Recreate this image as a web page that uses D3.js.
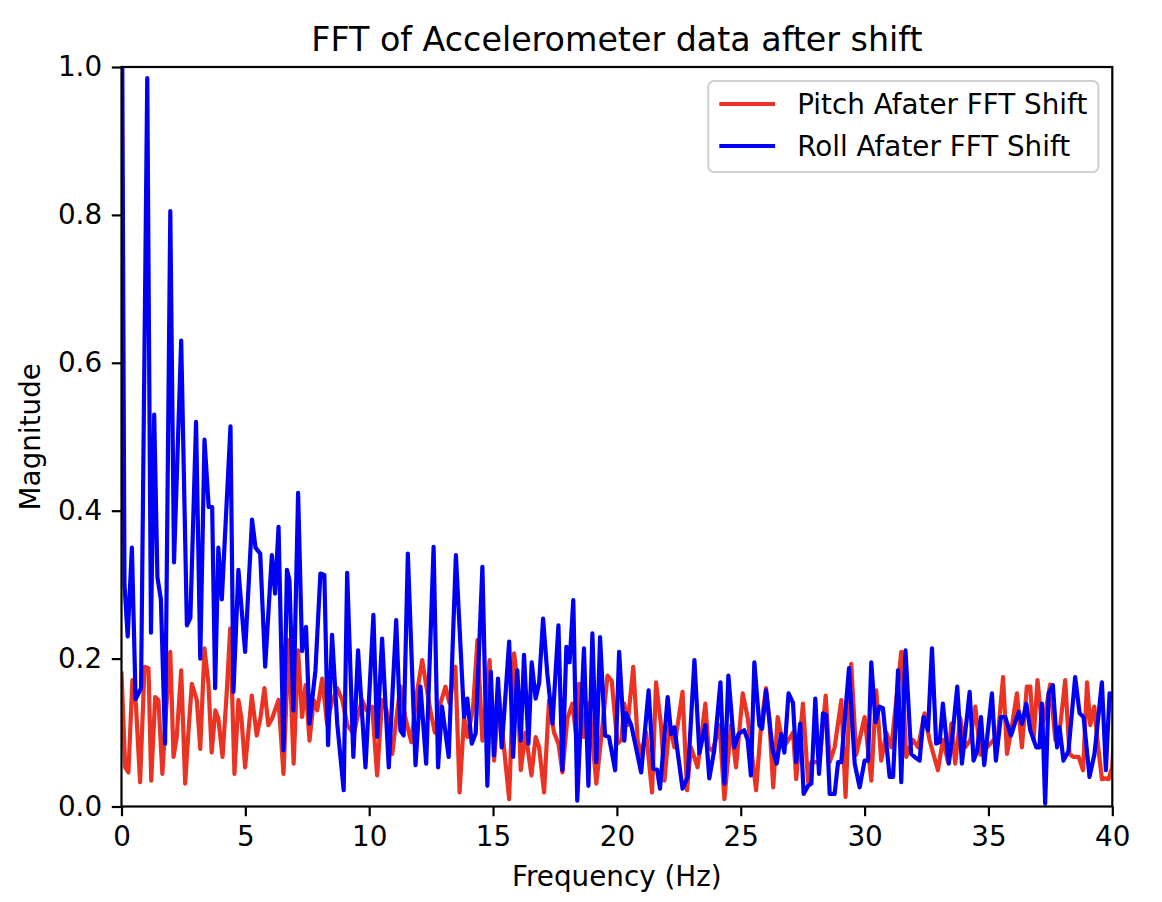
<!DOCTYPE html>
<html><head><meta charset="utf-8">
<script src="https://cdn.jsdelivr.net/npm/d3@7"></script>
<style>html,body{margin:0;padding:0;background:#fff;} svg{display:block;font-family:"DejaVu Sans",sans-serif;}</style>
</head><body><svg id="chart" width="1162" height="902"></svg>
<script>
const titleText = "FFT of Accelerometer data after shift";
const xLabel = "Frequency (Hz)";
const yLabel = "Magnitude";
const seriesNames = ["Pitch Afater FFT Shift", "Roll Afater FFT Shift"];
const seriesColors = ["#ea3323", "#0000f5"];
const xTicks = [0, 5, 10, 15, 20, 25, 30, 35, 40];
const yTicks = [0, 0.2, 0.4, 0.6, 0.8, 1.0];

const pitchFreq = [
0,0.15,0.28,0.44,0.58,0.75,0.93,1.09,1.20,1.36,
1.49,1.65,1.80,1.97,2.10,2.23,2.41,2.57,2.70,2.84,
3.04,3.18,3.35,3.51,3.64,3.79,3.91,4.08,4.24,4.39,
4.56,4.72,4.84,4.99,5.26,5.46,5.61,5.77,5.93,6.09,
6.34,6.54,6.75,6.95,7.13,7.29,7.43,7.59,7.76,7.90,
8.10,8.30,8.48,8.71,8.91,9.12,9.38,9.52,9.71,9.89,
10.12,10.32,10.52,10.70,10.93,11.10,11.26,11.46,11.70,11.91,
12.14,12.27,12.47,12.65,12.88,13.08,13.24,13.48,13.65,13.83,
13.96,14.19,14.37,14.57,14.86,15.04,15.24,15.38,15.65,15.85,
15.98,16.12,16.31,16.55,16.72,16.86,17.06,17.26,17.46,17.64,
17.80,18.00,18.20,18.34,18.47,18.67,18.88,19.17,19.39,19.62,
19.79,20.02,20.18,20.30,20.43,20.66,20.84,20.98,21.18,21.42,
21.58,21.78,21.92,22.12,22.32,22.65,22.83,22.99,23.26,23.57,
23.70,23.87,24.14,24.34,24.61,24.81,25.08,25.28,25.62,25.82,
26.02,26.15,26.31,26.49,26.67,26.83,27.11,27.24,27.51,27.72,
27.85,28.18,28.43,28.59,28.79,29.06,29.23,29.46,29.66,30.00,
30.27,30.47,30.67,30.88,31.08,31.48,31.68,31.95,32.16,32.42,
32.62,32.96,33.16,33.37,33.50,33.66,33.86,34.06,34.27,34.47,
34.67,34.94,35.21,35.34,35.59,35.75,35.95,36.15,36.35,36.55,
36.69,36.82,36.98,37.16,37.29,37.49,37.70,37.90,38.10,38.27,
38.44,38.64,38.82,38.98,39.11,39.27,39.40,39.58,39.72,39.85,
39.99,40.08];
const pitchMag = [
0.18,0.053,0.046,0.171,0.139,0.033,0.189,0.187,0.035,0.148,
0.144,0.044,0.13,0.209,0.067,0.094,0.184,0.031,0.1,0.166,
0.144,0.078,0.214,0.166,0.073,0.13,0.119,0.067,0.15,0.241,
0.044,0.144,0.12,0.053,0.15,0.096,0.12,0.16,0.11,0.12,
0.144,0.044,0.225,0.058,0.211,0.121,0.164,0.089,0.144,0.13,
0.173,0.112,0.14,0.16,0.144,0.11,0.098,0.12,0.144,0.13,
0.135,0.042,0.144,0.13,0.071,0.12,0.162,0.12,0.087,0.15,
0.198,0.17,0.13,0.1,0.14,0.162,0.14,0.189,0.019,0.121,
0.094,0.132,0.225,0.089,0.198,0.062,0.15,0.1,0.01,0.207,
0.17,0.049,0.1,0.042,0.094,0.08,0.019,0.144,0.1,0.085,
0.046,0.119,0.139,0.1,0.166,0.094,0.14,0.031,0.1,0.177,
0.17,0.085,0.09,0.139,0.11,0.189,0.089,0.07,0.1,0.019,
0.168,0.11,0.035,0.11,0.08,0.155,0.022,0.08,0.053,0.139,
0.08,0.075,0.11,0.01,0.11,0.053,0.153,0.12,0.022,0.11,
0.16,0.12,0.026,0.121,0.09,0.085,0.1,0.037,0.139,0.033,
0.06,0.06,0.15,0.06,0.08,0.144,0.013,0.193,0.07,0.121,
0.035,0.157,0.062,0.1,0.08,0.209,0.067,0.09,0.08,0.126,
0.09,0.049,0.09,0.06,0.112,0.058,0.12,0.08,0.09,0.135,
0.07,0.08,0.09,0.08,0.175,0.071,0.11,0.153,0.08,0.162,
0.162,0.09,0.171,0.11,0.125,0.165,0.09,0.11,0.171,0.071,
0.067,0.067,0.049,0.168,0.11,0.135,0.09,0.037,0.038,0.037,
0.053,0.1];

const rollFreq = [
0,0.12,0.25,0.42,0.57,0.79,1.04,1.19,1.32,1.45,
1.59,1.76,1.97,2.12,2.41,2.64,2.78,3.01,3.18,3.35,
3.52,3.66,3.78,3.91,4.05,4.40,4.52,4.72,4.99,5.27,
5.41,5.60,5.80,6.07,6.20,6.34,6.54,6.68,6.78,6.94,
7.13,7.29,7.45,7.59,7.83,8.03,8.19,8.34,8.50,8.71,
8.97,9.11,9.36,9.55,9.85,10.17,10.32,10.52,10.79,11.09,
11.26,11.39,11.56,11.87,12.07,12.30,12.60,12.78,12.94,13.21,
13.50,13.83,13.96,14.14,14.30,14.57,14.77,14.91,15.04,15.20,
15.35,15.50,15.65,15.81,15.98,16.12,16.25,16.43,16.56,16.72,
16.86,17.02,17.19,17.40,17.64,17.80,17.96,18.09,18.24,18.40,
18.67,18.85,19.01,19.17,19.32,19.52,19.68,19.93,20.09,20.30,
20.37,20.58,20.98,21.28,21.47,21.62,21.74,22.05,22.19,22.32,
22.65,22.86,23.13,23.33,23.57,23.73,23.93,24.18,24.34,24.50,
24.74,24.91,25.14,25.28,25.41,25.55,25.75,25.86,26.02,26.29,
26.45,26.63,26.76,26.93,27.11,27.24,27.40,27.54,27.72,27.85,
28.01,28.16,28.32,28.45,28.59,28.79,28.93,29.06,29.37,29.60,
29.80,30.00,30.14,30.27,30.44,30.60,30.74,31.01,31.15,31.35,
31.48,31.65,31.88,32.02,32.22,32.38,32.56,32.72,32.89,33.03,
33.16,33.40,33.56,33.74,33.93,34.24,34.40,34.54,34.70,34.83,
35.14,35.30,35.50,35.68,35.91,36.08,36.22,36.35,36.53,36.69,
36.93,37.06,37.16,37.29,37.43,37.60,37.77,37.87,38.03,38.23,
38.50,38.68,38.84,39.08,39.28,39.58,39.74,39.89,40.04];
const rollMag = [
1.25,0.30,0.23,0.35,0.145,0.16,0.985,0.235,0.53,0.31,
0.28,0.085,0.805,0.33,0.63,0.245,0.255,0.52,0.2,0.496,
0.405,0.405,0.16,0.35,0.28,0.514,0.155,0.32,0.209,0.388,
0.35,0.342,0.189,0.34,0.288,0.378,0.076,0.32,0.306,0.13,
0.424,0.21,0.243,0.112,0.184,0.315,0.313,0.083,0.232,0.112,
0.022,0.316,0.067,0.211,0.053,0.259,0.094,0.227,0.053,0.252,
0.103,0.096,0.342,0.056,0.162,0.058,0.351,0.053,0.135,0.067,
0.34,0.121,0.146,0.085,0.099,0.324,0.028,0.182,0.069,0.173,
0.08,0.15,0.223,0.067,0.184,0.089,0.205,0.085,0.195,0.146,
0.167,0.254,0.18,0.112,0.245,0.049,0.216,0.195,0.279,0.008,
0.214,0.028,0.234,0.06,0.229,0.096,0.094,0.049,0.209,0.089,
0.126,0.11,0.046,0.157,0.051,0.05,0.024,0.148,0.098,0.107,
0.024,0.04,0.198,0.072,0.11,0.038,0.076,0.168,0.031,0.177,
0.08,0.098,0.103,0.09,0.042,0.195,0.11,0.105,0.157,0.076,
0.058,0.098,0.073,0.153,0.14,0.06,0.112,0.017,0.028,0.031,
0.146,0.044,0.126,0.124,0.017,0.017,0.06,0.06,0.187,0.058,
0.026,0.062,0.062,0.195,0.114,0.135,0.133,0.04,0.04,0.184,
0.033,0.211,0.071,0.067,0.062,0.121,0.103,0.214,0.085,0.087,
0.139,0.058,0.1,0.162,0.058,0.155,0.062,0.075,0.121,0.056,
0.153,0.062,0.121,0.121,0.096,0.114,0.128,0.112,0.139,0.103,
0.08,0.08,0.139,0.004,0.153,0.164,0.08,0.107,0.062,0.075,
0.175,0.126,0.121,0.04,0.071,0.168,0.049,0.153,0.15];

const svg = d3.select("#chart");
const m = {left: 121.5, right: 1112.3, top: 67, bottom: 806.5};
const fs = 27.8;
const x = d3.scaleLinear().domain([0, 40]).range([m.left, m.right]);
const y = d3.scaleLinear().domain([0, 1]).range([m.bottom, m.top]);

svg.append("rect").attr("width", 1162).attr("height", 902).attr("fill", "#fff");

svg.append("defs").append("clipPath").attr("id", "plotclip")
  .append("rect").attr("x", m.left).attr("y", m.top)
  .attr("width", m.right - m.left).attr("height", m.bottom - m.top);

const series = [
  {name: seriesNames[0], color: seriesColors[0], f: pitchFreq, v: pitchMag},
  {name: seriesNames[1], color: seriesColors[1], f: rollFreq, v: rollMag}
];
const line = d3.line().x(d => x(d[0])).y(d => y(d[1]));
const g = svg.append("g").attr("clip-path", "url(#plotclip)");
series.forEach(s => {
  const pts = s.f.map((f, i) => [f, s.v[i]]);
  g.append("path").datum(pts).attr("d", line)
    .attr("fill", "none").attr("stroke", s.color)
    .attr("stroke-width", 4.2).attr("stroke-linejoin", "round").attr("stroke-linecap", "square");
});

// axes
const xAxis = d3.axisBottom(x).tickValues(xTicks).tickFormat(d3.format("d")).tickSize(9.7).tickPadding(9.7);
const yAxis = d3.axisLeft(y).tickValues(yTicks).tickFormat(d3.format(".1f")).tickSize(9.7).tickPadding(9.7);
const gx = svg.append("g").attr("transform", `translate(0,${m.bottom})`).call(xAxis);
const gy = svg.append("g").attr("transform", `translate(${m.left},0)`).call(yAxis);
[gx, gy].forEach(a => {
  a.select(".domain").remove();
  a.selectAll(".tick line").attr("stroke", "#000").attr("stroke-width", 2.2);
  a.selectAll(".tick text").attr("fill", "#000").style("font-size", fs + "px").style("font-family", "DejaVu Sans");
});

// spines
svg.append("rect").attr("x", m.left).attr("y", m.top)
  .attr("width", m.right - m.left).attr("height", m.bottom - m.top)
  .attr("fill", "none").attr("stroke", "#000").attr("stroke-width", 2.2);

// title & labels
svg.append("text").attr("x", (m.left + m.right) / 2).attr("y", 50.5)
  .attr("text-anchor", "middle").style("font-size", "33.3px").attr("fill", "#000").text(titleText);
svg.append("text").attr("x", (m.left + m.right) / 2).attr("y", 886)
  .attr("text-anchor", "middle").style("font-size", fs + "px").attr("fill", "#000").text(xLabel);
svg.append("text").attr("transform", `translate(40,${(m.top + m.bottom) / 2}) rotate(-90)`)
  .attr("text-anchor", "middle").style("font-size", fs + "px").attr("fill", "#000").text(yLabel);

// legend
const leg = svg.append("g");
const frame = leg.append("rect");
const rowsY = [104, 146];
const texts = [];
series.forEach((s, i) => {
  leg.append("line").attr("class", "h").attr("y1", rowsY[i]).attr("y2", rowsY[i])
    .attr("stroke", s.color).attr("stroke-width", 4.2).attr("stroke-linecap", "square");
  texts.push(leg.append("text").attr("y", rowsY[i] + 10).style("font-size", fs + "px").attr("fill", "#000").text(s.name));
});
const tw = d3.max(texts, t => t.node().getComputedTextLength());
const pad = 11.1, hl = 55.6, htp = 22.2;
const boxRight = m.right - 13.9;
const boxW = pad * 2 + hl + htp + tw;
const boxLeft = boxRight - boxW;
frame.attr("x", boxLeft).attr("y", 81).attr("width", boxW).attr("height", 91)
  .attr("rx", 5.6).attr("fill", "#fff").attr("fill-opacity", 0.8)
  .attr("stroke", "#d0d0d0").attr("stroke-width", 2);
leg.selectAll("line.h").attr("x1", boxLeft + pad + 2).attr("x2", boxLeft + pad + hl - 2);
texts.forEach(t => t.attr("x", boxLeft + pad + hl + htp));
</script></body></html>
